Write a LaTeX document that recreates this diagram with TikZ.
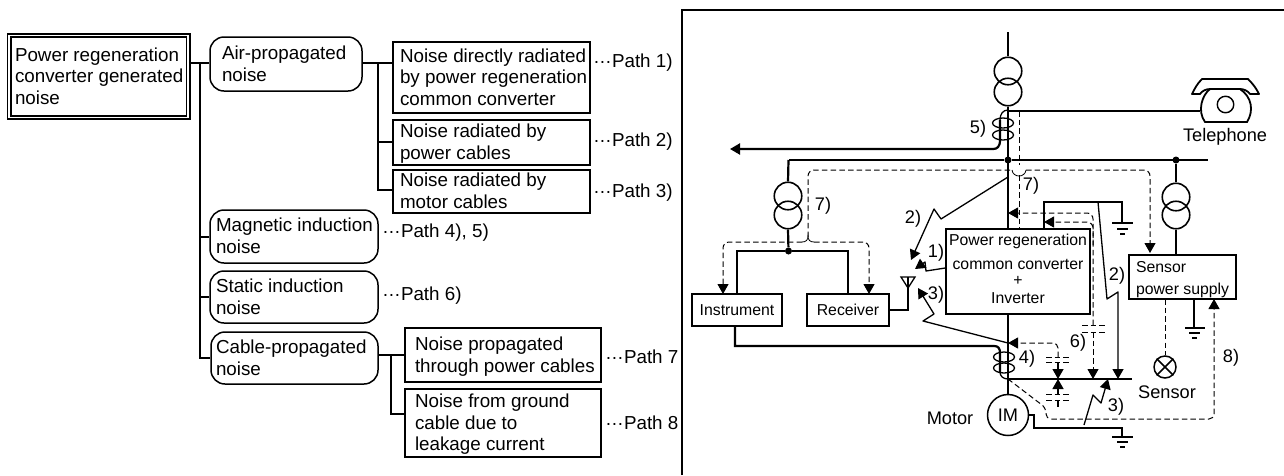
\documentclass[tikz,border=0pt]{standalone}
\usepackage{fontspec}
\setmainfont{Liberation Sans}
\usetikzlibrary{arrows.meta}
\newcommand{\pdots}{\raisebox{.24em}{…}}
\newcommand{\blockl}[3]{\makebox[#1][l]{\raisebox{-1.9pt}[\height][\depth]{\begin{tabular}{@{\hspace{#2}}l@{}}#3\end{tabular}}}}
\tikzset{
  x=1pt,y=-1pt,
  treetext/.style={font=\fontsize{18.8}{21.6}\selectfont},
  labeltext/.style={font=\fontsize{18.2}{20}\selectfont,inner sep=0pt},
  smalltext/.style={font=\fontsize{15.8}{18}\selectfont,inner sep=0pt},
  pathlabel/.style={treetext,anchor=west,inner sep=0pt},
  sq/.style n args={2}{treetext,draw,line width=1.7pt,rectangle,minimum width=#1,minimum height=#2,inner sep=0pt},
  rnd/.style n args={2}{treetext,draw,line width=1.5pt,rectangle,rounded corners=14pt,minimum width=#1,minimum height=#2,inner sep=0pt},
  tree/.style={line width=1.9pt},
  thick line/.style={line width=2.2pt},
  thin line/.style={line width=1.3pt},
  dash line/.style={line width=1pt,dash pattern=on 5.5pt off 3.2pt},
  arr/.style={-{Triangle[length=10pt,width=11pt]}},
  trafo/.style={draw,circle,line width=1.6pt,minimum size=27.5pt,inner sep=0pt},
  dev/.style={draw,line width=1.5pt,rectangle,smalltext,inner sep=0pt},
  dot/.style={fill,circle,inner sep=0pt,minimum size=7pt},
  gnd/.style={line width=2pt},
}
\begin{document}
\begin{tikzpicture}
\useasboundingbox (0,0) rectangle (1284,475);
\draw[line width=2.2pt] (682,475) -- (682,10) -- (1284,10);

% ---------- left: tree ----------
\node[treetext,draw,line width=1.7pt,double,double distance=1.6pt,rectangle,minimum width=179pt,minimum height=82pt,inner sep=0pt] (root) at (98.5,76.5) {\blockl{179pt}{6pt}{Power regeneration\\converter generated\\noise}};
\node[rnd={152pt}{54pt}] (air) at (286,64) {\blockl{152pt}{12pt}{Air-propagated\\noise}};
\node[rnd={168pt}{53pt}] (mag) at (294,236.5) {\blockl{168pt}{6pt}{Magnetic induction\\noise}};
\node[rnd={168pt}{52pt}] (sta) at (294,297) {\blockl{168pt}{6pt}{Static induction\\noise}};
\node[rnd={167pt}{52pt}] (cab) at (294.5,358) {\blockl{167pt}{5pt}{Cable-propagated\\noise}};
\node[sq={197pt}{71pt}] (n1) at (491.5,77.5) {\blockl{197pt}{7pt}{Noise directly radiated\\by power regeneration\\common converter}};
\node[sq={197pt}{45pt}] (n2) at (491.5,142.5) {\blockl{197pt}{7pt}{Noise radiated by\\power cables}};
\node[sq={197pt}{43pt}] (n3) at (491.5,191.5) {\blockl{197pt}{7pt}{Noise radiated by\\motor cables}};
\node[sq={196pt}{54pt}] (n7) at (503,355) {\blockl{196pt}{10pt}{Noise propagated\\through power cables}};
\node[sq={196pt}{68pt}] (n8) at (503,423) {\blockl{196pt}{10pt}{Noise from ground\\cable due to\\leakage current}};
\node[pathlabel] (p1) at (593,63) {\pdots Path 1)};
\node[pathlabel] (p2) at (593,142) {\pdots Path 2)};
\node[pathlabel] (p3) at (593,193) {\pdots Path 3)};
\node[pathlabel] (p45) at (382,233) {\pdots Path 4), 5)};
\node[pathlabel] (p6) at (382,296) {\pdots Path 6)};
\node[pathlabel] (p7) at (605,357) {\pdots Path 7};
\node[pathlabel] (p8) at (605,423) {\pdots Path 8};

\coordinate (trunktop) at (200,63);
\coordinate (trunkbot) at (200,358);
\draw[tree] (root.east |- trunktop) -- (air.west |- trunktop);
\draw[tree] (trunktop) -- (trunkbot) -- (cab.west |- trunkbot);
\draw[tree] (200,237) -- (mag.west |- 0,237);
\draw[tree] (200,297) -- (sta.west |- 0,297);
\coordinate (b1) at (378,63);
\draw[tree] (air.east |- b1) -- (n1.west |- b1);
\draw[tree] (b1) |- (n2.west |- 0,142);
\draw[tree] (b1) |- (n3.west |- 0,190);
\coordinate (b2) at (391,355);
\draw[tree] (cab.east |- b2) -- (n7.west |- b2);
\draw[tree] (b2) |- (n8.west |- 0,414);

% ---------- right: nodes ----------
\node[dev,minimum width=144pt,minimum height=85pt] (conv) at (1018,271.5) {};
\node[smalltext] (convt1) at (1018,241) {Power regeneration};
\node[smalltext] (convt2) at (1018,264) {common converter};
\node[smalltext] (convt3) at (1018,281) {+};
\node[smalltext] (convt4) at (1018,298) {Inverter};
\node[dev,minimum width=90pt,minimum height=32pt] (instr) at (737,310) {Instrument};
\node[dev,minimum width=82pt,minimum height=32pt] (recv) at (848,310) {Receiver};
\node[dev,minimum width=107pt,minimum height=44pt,font=\fontsize{15.8}{22}\selectfont] (sens) at (1182.5,277) {\blockl{107pt}{7pt}{Sensor\\power supply}};
\node[trafo] (tAu) at (1008,71) {};
\node[trafo] (tAl) at (1008,92) {};
\node[trafo] (tBu) at (788,196) {};
\node[trafo] (tBl) at (788,215) {};
\node[trafo] (tCu) at (1176,197) {};
\node[trafo] (tCl) at (1176,215) {};
\node[draw,circle,line width=1.5pt,minimum size=41pt,inner sep=0pt,font=\fontsize{18.2}{20}\selectfont] (im) at (1008,415) {IM};
\node[draw,circle,line width=1.5pt,minimum size=22pt,inner sep=0pt] (lamp) at (1165,367) {};
\draw[line width=1.5pt] (lamp.45) -- (lamp.225) (lamp.135) -- (lamp.315);
\node[dot] (dA) at (1008,160) {};
\node[dot] (dB) at (788.5,251) {};
\node[dot] (dC) at (1176,160) {};
\node[labeltext] (ltel) at (1225,137) {Telephone};
\node[labeltext] (lmot) at (950,418) {Motor};
\node[labeltext] (lsen) at (1167,392) {Sensor};
\node[labeltext] (l5) at (978,129) {5)};
\node[labeltext] (l7a) at (823,206) {7)};
\node[labeltext] (l7b) at (1031,186) {7)};
\node[labeltext] (l2a) at (913,219) {2)};
\node[labeltext] (l1) at (936,253) {1)};
\node[labeltext] (l3a) at (936,295) {3)};
\node[labeltext] (l2b) at (1117,276) {2)};
\node[labeltext] (l6) at (1078,343) {6)};
\node[labeltext] (l4) at (1027,359) {4)};
\node[labeltext] (l3b) at (1116,407) {3)};
\node[labeltext] (l8) at (1231,358) {8)};

% ---------- right: solid wiring ----------
\draw[thick line] (1008,32) -- (tAu.north);
\draw[thick line] (tAl.south) -- (conv.north -| tAl.south);
\draw[thick line] (conv.south -| im.north) -- (im.north);
\coordinate (telIn) at (1200,111);
\draw[thick line] (1008,111) -- (telIn);
\draw[line width=1.5pt] (dA) -- (1208,160);
\draw[thick line] (788.5,160) -- (dA);
\draw[thick line] (788.5,160) -- (tBu.north);
\draw[thick line] (tBl.south) -- (dB);
\draw[thick line] (instr.north) |- (dB) -| (recv.north);
\draw[thick line] (dC) -- (tCu.north);
\draw[thick line] (tCl.south) -- (tCl.south |- sens.north);
% outgoing arrow with pickup coil 5)
\draw[thick line,-{Triangle[length=10pt,width=11pt]}] (1000,120) -- (1000,140) .. controls (1000,147) and (997,149) .. (993,149) -- (730,149);
\draw[line width=1.3pt] (1000,120) .. controls (1000,114) and (1003,110) .. (1008,110);
\draw[line width=1.3pt] (1003,123) ellipse [x radius=10.5,y radius=5];
\draw[line width=1.3pt] (1003,135) ellipse [x radius=10.5,y radius=5];
% instrument wire with coil 4)
\draw[thick line] (instr.south -| 735,0) -- (735,346) -- (994,346) .. controls (998,346) and (1000,348) .. (1000,353) -- (1000,372);
\draw[line width=1.3pt] (1000,372) .. controls (1000,376) and (1003,379) .. (1008,379);
\draw[line width=1.3pt] (1004,357) ellipse [x radius=10.5,y radius=5];
\draw[line width=1.3pt] (1004,368) ellipse [x radius=10.5,y radius=5];
% motor bar
\draw[thick line] (1008,379) -- (1132,379);
% receiver antenna
\draw[thick line] (recv.east) -- (908,310) -- (908,277);
\draw[line width=1.3pt] (901,277) -- (915,277) -- (908,288) -- cycle;
% converter ground
\coordinate (gA) at (1122,223);
\draw[thick line] (1044,229) -- (1044,202) -- (1122,202) -- (gA);
\draw[gnd] (1112,223) -- (1133,223) (1117,229) -- (1128,229) (1120,234) -- (1125,234);
% motor ground
\draw[thick line] (im.east) -- (1034,415) -- (1034,428) -- (1122,428) -- (1122,437);
\draw[gnd] (1112,437) -- (1133,437) (1117,442) -- (1128,442) (1120,447) -- (1125,447);
% sensor ground
\draw[thick line] (1194,299) -- (1194,328);
\draw[gnd] (1185,328) -- (1205,328) (1189,333) -- (1200,333) (1192,338) -- (1197,338);
% telephone
\draw[line width=1.8pt,fill=white,line join=round] (1192,94) .. controls (1195,88) and (1197,84) .. (1202,79) -- (1248,79) .. controls (1253,84) and (1256,88) .. (1259,94) -- (1250,94) .. controls (1248,91) and (1244,89) .. (1240,89) -- (1210,89) .. controls (1206,89) and (1202,91) .. (1200,94) -- cycle;
\draw[line width=1.8pt] (1210,89) .. controls (1202,95) and (1197,111) .. (1205,122) -- (1247,122) .. controls (1254,111) and (1252,97) .. (1240,89);
\node[draw,circle,line width=1.4pt,minimum size=16.5pt,inner sep=0pt] (dial) at (1225.5,104.5) {};

% ---------- right: noise lightning ----------
\draw[thin line,arr,line join=round] (1008,177) -- (941,219) -- (934,209) -- (911,260);
\draw[thin line,arr,line join=round] (conv.west |- 0,268) -- (926,271) -- (925,262) -- (915,269);
\draw[thin line,arr,line join=round] (1008,343) -- (923,321) -- (934,314) -- (918,288);
\draw[thin line,arr,line join=round] (1098,202) -- (1107,299) -- (1118,292) -- (1118,379);
\draw[thin line,arr,line join=round] (1084,425) -- (1093,395) -- (1101,403) -- (1108,379);

% ---------- right: dashed paths ----------
\draw[dash line,rounded corners=6pt] (808,237) -- (808,170) -- (1012,170);
\draw[dash line,rounded corners=6pt,arr] (1026,170) -- (1150,170) -- (1150,253);
\draw[line width=.8pt] (1012,170) .. controls (1013,178) and (1025,178) .. (1026,170);
\draw[dash line,rounded corners=6pt,arr] (802,242) -- (723,242) -- (723,294);
\draw[dash line,rounded corners=6pt,arr] (814,242) -- (869,242) -- (869,294);
\draw[line width=.8pt] (802,242) .. controls (806,242) and (808,240) .. (808,236) .. controls (808,240) and (810,242) .. (814,242);
\draw[dash line] (1019,111) -- (1019,165);
\draw[dash line] (1019,175) -- (1019,229);
\draw[dash line,rounded corners=6pt,arr] (1093,325) -- (1093,213) -- (1008,213);
\draw[dash line,rounded corners=6pt,arr] (1093,245) -- (1093,222) -- (1044,222);
\draw[dash line] (1082,325) -- (1105,325) (1082,332) -- (1105,332);
\draw[dash line,arr] (1093,332) -- (1093,379);
\draw[dash line,rounded corners=5pt,arr] (1058,357) -- (1058,343) -- (1008,343);
\draw[dash line] (1046,357) -- (1069,357) (1046,362) -- (1069,362);
\draw[thin line,arr] (1058,362) -- (1058,379);
\draw[thin line,arr] (1058,394) -- (1058,379);
\draw[dash line] (1046,394) -- (1069,394) (1046,400) -- (1069,400);
\draw[thin line] (1058,400) -- (1058,407);
\draw[dash line,rounded corners=5pt,arr] (1008,379) -- (1046,408) -- (1046,419) -- (1214,419) -- (1214,299);
\draw[dash line] (1165,299) -- (lamp.north);
\end{tikzpicture}
\end{document}
